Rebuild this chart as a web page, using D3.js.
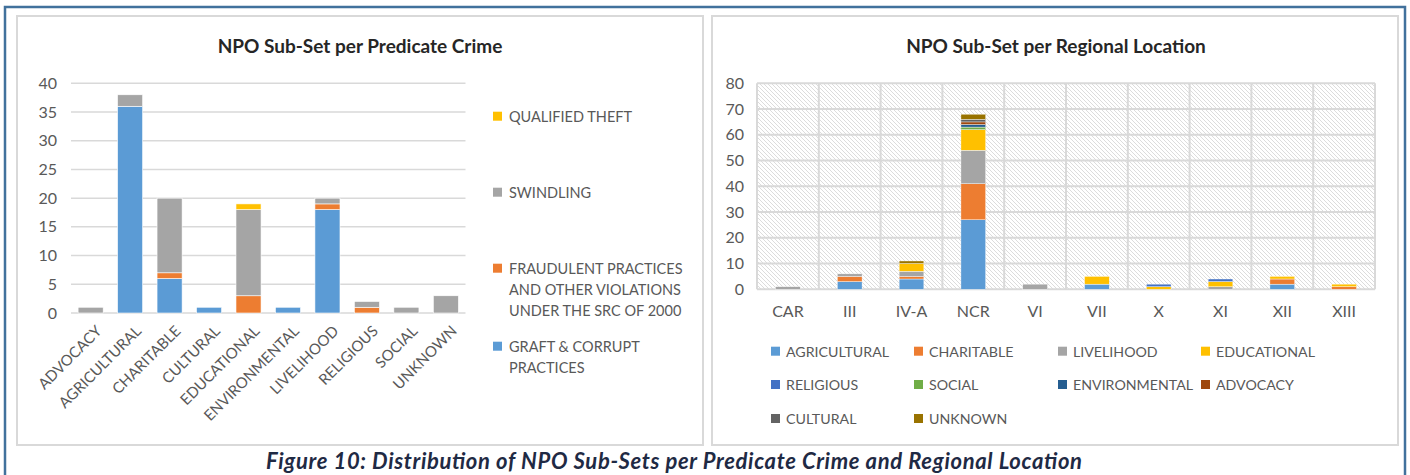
<!DOCTYPE html>
<html><head><meta charset="utf-8">
<script src="https://cdn.jsdelivr.net/npm/d3@7"></script>
<style>
body{margin:0;background:#fff}
svg{display:block}
text{font-family:Lato,"Open Sans",sans-serif}
</style>
</head><body>
<svg id="c" width="1410" height="475"></svg>
<script>
// ---------- Left chart data ----------
const crimeCategories = ["ADVOCACY","AGRICULTURAL","CHARITABLE","CULTURAL","EDUCATIONAL","ENVIRONMENTAL","LIVELIHOOD","RELIGIOUS","SOCIAL","UNKNOWN"];
const graftValues     = [0,36,6,1,0,1,18,0,0,0];
const fraudValues     = [0,0,1,0,3,0,1,1,0,0];
const swindlingValues = [1,2,13,0,15,0,1,1,1,3];
const theftValues     = [0,0,0,0,1,0,0,0,0,0];
const crimeSeriesNames = ["GRAFT & CORRUPT PRACTICES","FRAUDULENT PRACTICES AND OTHER VIOLATIONS UNDER THE SRC OF 2000","SWINDLING","QUALIFIED THEFT"];
const crimeLegendLines = [["GRAFT & CORRUPT","PRACTICES"],["FRAUDULENT PRACTICES","AND OTHER VIOLATIONS","UNDER THE SRC OF 2000"],["SWINDLING"],["QUALIFIED THEFT"]];
const crimeColors = ["#5b9bd5","#ed7d31","#a5a5a5","#ffc000"];
const crimeTicks = [0,5,10,15,20,25,30,35,40];

// ---------- Right chart data ----------
const regions = ["CAR","III","IV-A","NCR","VI","VII","X","XI","XII","XIII"];
const agricultural  = [0,3,4,27,0,2,0,0,2,0];
const charitable    = [0,2,1,14,0,0,0,0,2,1];
const livelihood    = [1,1,2,13,2,0,0,1,0,0];
const educational   = [0,0,3,8,0,3,1,2,1,1];
const religious     = [0,0,0,0,0,0,1,1,0,0];
const social        = [0,0,0,1,0,0,0,0,0,0];
const environmental = [0,0,0,1,0,0,0,0,0,0];
const advocacy      = [0,0,0,1,0,0,0,0,0,0];
const cultural      = [0,0,0,1,0,0,0,0,0,0];
const unknown       = [0,0,1,2,0,0,0,0,0,0];
const regionSeriesNames = ["AGRICULTURAL","CHARITABLE","LIVELIHOOD","EDUCATIONAL","RELIGIOUS","SOCIAL","ENVIRONMENTAL","ADVOCACY","CULTURAL","UNKNOWN"];
const regionColors = ["#5b9bd5","#ed7d31","#a5a5a5","#ffc000","#4472c4","#70ad47","#255e91","#9e480e","#636363","#997300"];
const regionTicks = [0,10,20,30,40,50,60,70,80];

const svg = d3.select("#c");
const txt = "#595959";
const grid = "#d9d9d9";

// outer frame & panels
svg.append("rect").attr("x",5).attr("y",7).attr("width",1400).attr("height",490)
  .attr("fill","none").attr("stroke","#41719c").attr("stroke-width",2.5);
svg.append("rect").attr("x",17).attr("y",16).attr("width",686).attr("height",429)
  .attr("fill","#fff").attr("stroke",grid).attr("stroke-width",2);
svg.append("rect").attr("x",712).attr("y",16).attr("width",686).attr("height",429)
  .attr("fill","#fff").attr("stroke",grid).attr("stroke-width",2);

// caption
svg.append("text").attr("x",674).attr("y",469).attr("text-anchor","middle")
  .attr("font-size",22).attr("font-weight","bold").attr("font-style","italic")
  .attr("fill","#1f2a44").attr("textLength",816).attr("lengthAdjust","spacing")
  .text("Figure 10: Distribution of NPO Sub-Sets per Predicate Crime and Regional Location");

// ===== LEFT CHART =====
{
  const g = svg.append("g");
  g.append("text").attr("x",360).attr("y",53).attr("text-anchor","middle")
    .attr("font-size",19).attr("font-weight","bold").attr("fill","#262626")
    .text("NPO Sub-Set per Predicate Crime");
  const x = d3.scaleBand().domain(crimeCategories).range([71,465.5]).paddingInner(0.365).paddingOuter(0.18);
  const y = d3.scaleLinear().domain([0,40]).range([313,83.3]);
  g.append("g").selectAll("line").data(crimeTicks).join("line")
    .attr("x1",71).attr("x2",465.5).attr("y1",d=>y(d)).attr("y2",d=>y(d))
    .attr("stroke",grid).attr("stroke-width",1.5);
  const ya = d3.axisLeft(y).tickValues(crimeTicks).tickSize(0).tickPadding(14);
  const yg = g.append("g").attr("transform","translate(71,0)").call(ya);
  yg.select(".domain").remove();
  yg.selectAll("text").attr("font-size",16).attr("fill",txt).attr("font-family","Lato");
  const rows = crimeCategories.map((c,i)=>({cat:c, s0:graftValues[i], s1:fraudValues[i], s2:swindlingValues[i], s3:theftValues[i]}));
  const stack = d3.stack().keys(["s0","s1","s2","s3"])(rows);
  g.append("g").selectAll("g").data(stack).join("g").attr("fill",(d,i)=>crimeColors[i])
    .selectAll("rect").data(d=>d).join("rect")
    .attr("x",d=>x(d.data.cat)).attr("width",x.bandwidth())
    .attr("y",d=>y(d[1])).attr("height",d=>Math.max(0,y(d[0])-y(d[1])))
    .attr("stroke","#fff").attr("stroke-width",d=>d[1]>d[0]?0.6:0);
  const xa = d3.axisBottom(x).tickSize(0).tickPadding(0);
  const xg = g.append("g").attr("transform","translate(0,313)").call(xa);
  xg.select(".domain").remove();
  xg.selectAll("text").attr("font-size",15).attr("fill",txt).attr("font-family","Lato")
    .attr("text-anchor","end").attr("dy",0)
    .attr("transform","translate(12,19) rotate(-45)");
  const legY = [116.7,192.7,268.7,346.7];
  const order = [3,2,1,0];
  order.forEach((si,k)=>{
    const yy = legY[k];
    g.append("rect").attr("x",493).attr("y",yy-5).attr("width",9).attr("height",9).attr("fill",crimeColors[si]);
    const t = g.append("text").attr("x",509).attr("y",yy+5).attr("font-size",14.5).attr("fill",txt);
    crimeLegendLines[si].forEach((ln,j)=>{
      t.append("tspan").attr("x",509).attr("dy",j===0?0:21).text(ln);
    });
  });
}

// ===== RIGHT CHART =====
{
  const g = svg.append("g");
  g.append("text").attr("x",1056).attr("y",53).attr("text-anchor","middle")
    .attr("font-size",19).attr("font-weight","bold").attr("fill","#262626")
    .text("NPO Sub-Set per Regional Location");
  const x = d3.scaleBand().domain(regions).range([757,1375]).paddingInner(0.6).paddingOuter(0.3);
  const y = d3.scaleLinear().domain([0,80]).range([289.3,83.3]);
  const defs = svg.append("defs");
  const pat = defs.append("pattern").attr("id","hatch").attr("patternUnits","userSpaceOnUse")
    .attr("width",4).attr("height",4);
  pat.append("rect").attr("width",4).attr("height",4).attr("fill","#fff");
  pat.append("path").attr("d","M-1,-1 L5,5 M-1,3 L1,5 M3,-1 L5,1")
    .attr("stroke","#dcdcdc").attr("stroke-width",1);
  g.append("rect").attr("x",757).attr("y",y(80)).attr("width",618).attr("height",y(0)-y(80))
    .attr("fill","url(#hatch)");
  g.append("g").selectAll("line").data(regionTicks).join("line")
    .attr("x1",757).attr("x2",1375).attr("y1",d=>y(d)).attr("y2",d=>y(d))
    .attr("stroke",grid).attr("stroke-width",2);
  const bounds = regions.map(r=>x(r) - (x.step()-x.bandwidth())/2).concat([1375]);
  g.append("g").selectAll("line").data(bounds).join("line")
    .attr("x1",d=>d).attr("x2",d=>d).attr("y1",y(80)).attr("y2",y(0))
    .attr("stroke",grid).attr("stroke-width",2);
  const ya = d3.axisLeft(y).tickValues(regionTicks).tickSize(0).tickPadding(13);
  const yg = g.append("g").attr("transform","translate(757,0)").call(ya);
  yg.select(".domain").remove();
  yg.selectAll("text").attr("font-size",16).attr("fill",txt).attr("font-family","Lato");
  const seriesArr = [agricultural,charitable,livelihood,educational,religious,social,environmental,advocacy,cultural,unknown];
  const rows = regions.map((r,i)=>{const o={reg:r}; seriesArr.forEach((s,k)=>o["k"+k]=s[i]); return o;});
  const stack = d3.stack().keys(seriesArr.map((s,k)=>"k"+k))(rows);
  g.append("g").selectAll("g").data(stack).join("g").attr("fill",(d,i)=>regionColors[i])
    .selectAll("rect").data(d=>d).join("rect")
    .attr("x",d=>x(d.data.reg)).attr("width",x.bandwidth())
    .attr("y",d=>y(d[1])).attr("height",d=>Math.max(0,y(d[0])-y(d[1])))
    .attr("stroke","#fff").attr("stroke-width",d=>d[1]>d[0]?0.4:0);
  const xa = d3.axisBottom(x).tickSize(0).tickPadding(16);
  const xg = g.append("g").attr("transform","translate(0,289.3)").call(xa);
  xg.select(".domain").remove();
  xg.selectAll("text").attr("font-size",16).attr("fill",txt).attr("font-family","Lato");
  const colX = [771,914,1058,1201];
  const rowY = [351.7,385,419];
  regionSeriesNames.forEach((n,i)=>{
    const cx = colX[i%4], cy = rowY[Math.floor(i/4)];
    g.append("rect").attr("x",cx).attr("y",cy-5).attr("width",9).attr("height",9).attr("fill",regionColors[i]);
    g.append("text").attr("x",cx+15).attr("y",cy+5).attr("font-size",14.2).attr("fill",txt).text(n);
  });
}
</script>
</body></html>
